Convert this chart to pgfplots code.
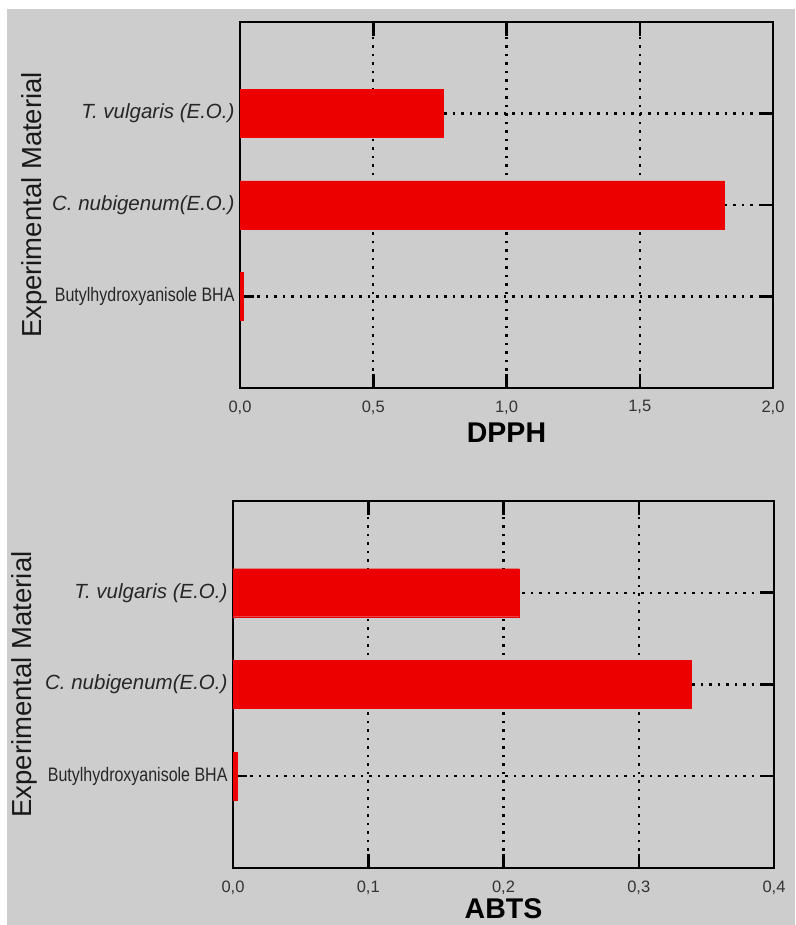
\documentclass[border=0pt]{standalone}
\usepackage{fontspec}
\setmainfont{Liberation Sans}
\newfontfamily\narrowfont[FakeStretch=0.82]{Liberation Sans}
\usepackage{pgfplots}
\pgfplotsset{compat=1.18}
\definecolor{bggray}{RGB}{205,205,205}
\definecolor{barred}{RGB}{236,0,0}
\pgfplotsset{
  panel/.style={
    scale only axis,
    xbar, bar width=48pt,
    ymin=0, ymax=4, xmin=0,
    ytick={1,2,3},
    yticklabels={{\narrowfont\fontsize{19.5}{20}\selectfont Butylhydroxyanisole BHA},
                 {\itshape C.\ nubigenum(E.O.)},
                 {\itshape T.\ vulgaris (E.O.)}},
    yticklabel style={font=\fontsize{20.5}{22}\selectfont, text=black!85, xshift=-2pt},
    xticklabel style={font=\fontsize{16.5}{18}\selectfont, text=black!80, yshift=-9pt},
    /pgf/number format/assume math mode=true,
    /pgf/number format/.cd, use comma, fixed, fixed zerofill, precision=1, /pgfplots/.cd,
    grid=major,
    grid style={black, line width=2.3pt, dash pattern=on 2.5pt off 6pt},
    axis line style={black, line width=2.2pt},
    tick style={black, line width=2.5pt},
    tick align=inside,
    major tick length=14pt,
    ylabel={Experimental Material},
    ylabel style={font=\fontsize{27.5}{28}\selectfont, text=black!90, anchor=center},
    xlabel style={font=\bfseries\fontsize{28.5}{29}\selectfont, anchor=center},
  }
}
\begin{document}
\begin{tikzpicture}[x=1pt,y=1pt]
\path[use as bounding box, fill=white] (0,0) rectangle (795,925);
\fill[bggray] (7,0) rectangle (795,916);
\begin{axis}[panel,
  at={(240pt,537pt)}, anchor=south west,
  width=533pt, height=366pt,
  xmax=2, xtick={0,0.5,1,1.5,2},
  xlabel={DPPH},
  xlabel style={at={(axis description cs:0.5,-0.123)}},
  ylabel style={at={(axis description cs:-0.386,0.5)}},
]
\addplot[fill=barred, draw=barred] coordinates {(0.012,1) (1.817,2) (0.763,3)};
\end{axis}
\begin{axis}[panel,
  at={(233pt,57pt)}, anchor=south west,
  width=541pt, height=367pt,
  xmax=0.4, xtick={0,0.1,0.2,0.3,0.4},
  xlabel={ABTS},
  xlabel style={at={(axis description cs:0.5,-0.112)}},
  ylabel style={at={(axis description cs:-0.386,0.5)}},
]
\addplot[fill=barred, draw=barred] coordinates {(0.003,1) (0.3386,2) (0.2117,3)};
\end{axis}
\end{tikzpicture}
\end{document}
